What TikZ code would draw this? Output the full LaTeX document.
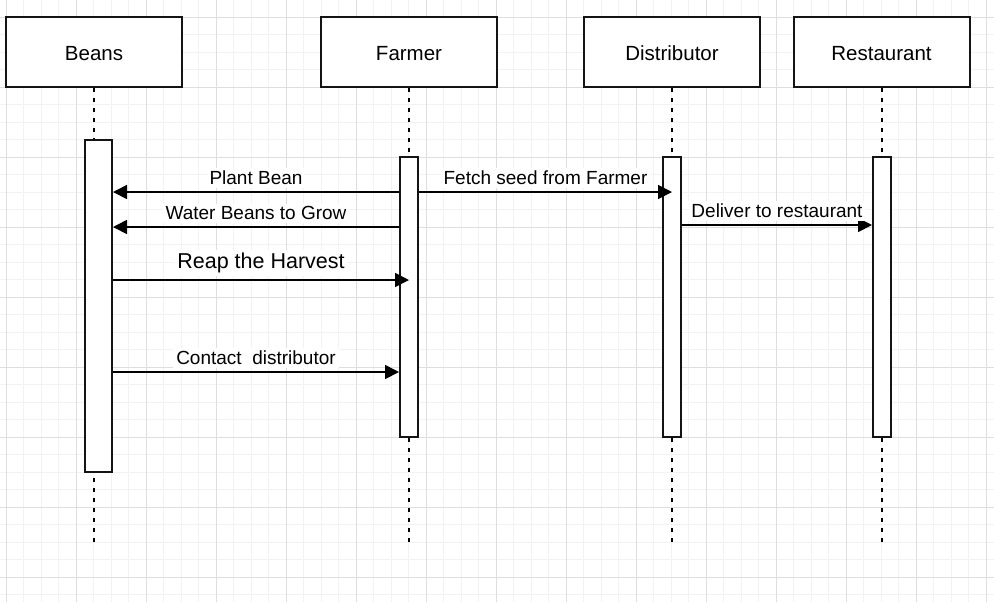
\documentclass[tikz,border=0pt]{standalone}
\usepackage{fontspec}
\setmainfont{Liberation Sans}
\usetikzlibrary{positioning,arrows.meta,calc}
\definecolor{gridMajor}{RGB}{222,222,222}
\definecolor{gridMinor}{RGB}{242,242,242}
\definecolor{lineDark}{RGB}{20,20,20}

\begin{document}
\begin{tikzpicture}[x=0.5pt,y=-0.5pt,
  head/.style={draw=lineDark,line width=1pt,fill=white,minimum width=88pt,minimum height=35pt,inner sep=0pt,text height=8.8pt,text depth=0pt,font=\fontsize{10.25}{12}\selectfont},
  actbar/.style={draw=lineDark,line width=1pt,fill=white,minimum width=9pt,inner sep=0pt},
  life/.style={draw=black,line width=1pt,dash pattern=on 2pt off 3pt},
  msg/.style={draw=black,line width=0.85pt,-{Triangle[length=7pt,width=7pt]}},
  lbl/.style={fill=white,inner sep=1.5pt,above=1.5pt,font=\fontsize{9.5}{11}\selectfont}]
% --- grid ---
\useasboundingbox (0,0) rectangle (994,602);
\fill[white] (0,0) rectangle (994,602);
\foreach \i in {0,...,57} \draw[gridMinor,line width=0.5pt] ({-11.5+17.5*\i},0) -- ({-11.5+17.5*\i},602);
\foreach \j in {0,...,34} \draw[gridMinor,line width=0.5pt] (0,{-0.5+17.5*\j}) -- (994,{-0.5+17.5*\j});
\foreach \i in {0,...,14} \draw[gridMajor,line width=0.5pt] ({6+70*\i},0) -- ({6+70*\i},602);
\foreach \j in {0,...,8} \draw[gridMajor,line width=0.5pt] (0,{17+70*\j}) -- (994,{17+70*\j});
% --- participants ---
\node[head] (beans) at (94,52) {Beans};
\node[head] (farmer) at (409,52) {Farmer};
\node[head] (distrib) at (672,52) {Distributor};
\node[head] (rest) at (881.5,52) {Restaurant};
% --- lifelines ---
\coordinate (lifeend) at (0,542);
\foreach \n in {beans,farmer,distrib,rest}
  \draw[life] (\n.south) -- (\n.south |- lifeend);
% --- activation bars ---
\node[actbar,minimum width=13.5pt,minimum height=166pt] (beansbar) at (98.5,306) {};
\node[actbar,minimum height=140pt] (farmerbar) at (409,297) {};
\node[actbar,minimum height=140pt] (distribbar) at (672,297) {};
\node[actbar,minimum height=140pt] (restbar) at (882,297) {};
% --- messages ---
\coordinate (m1) at (0,192);
\coordinate (m2) at (0,227);
\coordinate (m3) at (0,280);
\coordinate (m4) at (0,372);
\coordinate (m5) at (0,225);
\draw[msg] (farmerbar.west |- m1) -- (beansbar.east |- m1) node[lbl,midway] {Plant Bean};
\draw[msg] (farmerbar.west |- m2) -- (beansbar.east |- m2) node[lbl,midway] {Water Beans to Grow};
\draw[msg] (beansbar.east |- m3) -- (farmer.south |- m3) node[lbl,midway,font=\fontsize{10.75}{13}\selectfont] {Reap the Harvest};
\draw[msg] (beansbar.east |- m4) -- (farmerbar.west |- m4) node[lbl,midway] {Contact\ \ distributor};
\draw[msg] (farmerbar.east |- m1) -- (distrib.south |- m1) node[lbl,midway] {Fetch seed from Farmer};
\draw[msg] (distribbar.east |- m5) -- (restbar.west |- m5) node[lbl,midway] {Deliver to restaurant};
\end{tikzpicture}
\end{document}
